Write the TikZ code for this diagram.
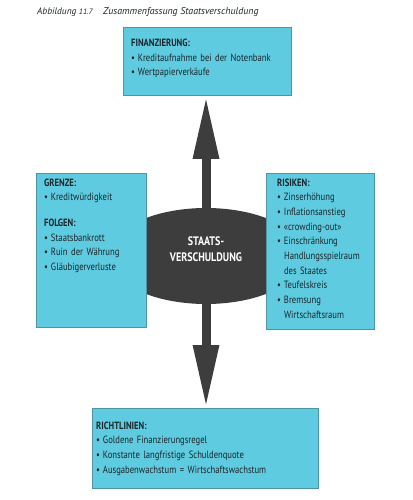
\documentclass[tikz,border=0pt]{standalone}
\usepackage{fontspec}
\setmainfont[FakeStretch=0.82]{PT Sans}
\newfontfamily\titlefont{PT Sans}
\usetikzlibrary{arrows.meta,shapes.geometric}
\definecolor{boxfill}{HTML}{5FCBE0}
\definecolor{boxline}{HTML}{4E93A6}
\definecolor{darkgray}{HTML}{3D3D3D}
\definecolor{txt}{HTML}{1C262B}
\newcommand\itm[1]{\par\noindent\hangindent=6.8pt\hangafter=1\makebox[6.8pt][l]{\textbullet}#1\par}
\tikzset{
  infobox/.style={draw=boxline, fill=boxfill, line width=0.8pt, inner sep=0pt, anchor=north west},
  boxtext/.style={anchor=base west, inner sep=0pt, text=txt, font=\fontsize{10.5}{14.7}\selectfont, align=left},
  bigarrow/.style={draw=darkgray, line width=9pt, -{Triangle[width=24pt,length=63pt]}},
  titletext/.style={anchor=base west, inner sep=0pt, text=txt, font=\titlefont\fontsize{9.9}{11}\selectfont\itshape}
}
\begin{document}
\begin{tikzpicture}[x=1pt,y=-1pt]
\useasboundingbox (0,0) rectangle (412,500);
% title
\node[titletext, font=\titlefont\fontsize{9.4}{11}\selectfont\itshape] (t1) at (37,15) {Abbildung {\fontsize{7.8}{10}\selectfont 11.7}};
\node[titletext] (t2) at (103,15) {Zusammenfassung Staatsverschuldung};
% central ellipse
\node[ellipse, fill=darkgray, minimum width=196pt, minimum height=96pt, inner sep=0pt] (ell) at (206,256) {};
% boxes
\node[infobox, minimum width=168pt, minimum height=68pt] (fin) at (123,27) {};
\node[infobox, minimum width=110pt, minimum height=154pt] (grz) at (36,173) {};
\node[infobox, minimum width=108pt, minimum height=156pt] (ris) at (266,173) {};
\node[infobox, minimum width=226pt, minimum height=80pt] (ric) at (92,408) {};
% arrows
\draw[bigarrow] (ell.center) -- (ell.center |- fin.south);
\draw[bigarrow] (ell.center) -- (ell.center |- ric.north);
% centre text
\node[inner sep=0pt, text=white, align=center, font=\fontsize{12.3}{15.8}\selectfont\bfseries] (elltext) at (206,249) {STAATS-\\VERSCHULDUNG};
% box texts
\node[boxtext, text width=158pt] (fintext) at (131,46.5) {\textbf{FINANZIERUNG:}\itm{Kreditaufnahme bei der Notenbank}\itm{Wertpapierverkäufe}};
\node[boxtext, text width=100pt] (grztext) at (44,186) {\textbf{GRENZE:}\itm{Kreditwürdigkeit}\vspace{11pt}\noindent\textbf{FOLGEN:}\itm{Staatsbankrott}\itm{Ruin der Währung}\itm{Gläubigerverluste}};
\node[boxtext, text width=96pt] (ristext) at (277,186) {\textbf{RISIKEN:}\itm{Zinserhöhung}\itm{Inflationsanstieg}\itm{«crowding-out»}\itm{Einschränkung\newline Handlungsspielraum\newline des Staates}\itm{Teufelskreis}\itm{Bremsung\newline Wirtschaftsraum}};
\node[boxtext, text width=220pt] (rictext) at (96,429) {\textbf{RICHTLINIEN:}\itm{Goldene Finanzierungsregel}\itm{Konstante langfristige Schuldenquote}\itm{Ausgabenwachstum = Wirtschaftswachstum}};
\end{tikzpicture}
\end{document}
